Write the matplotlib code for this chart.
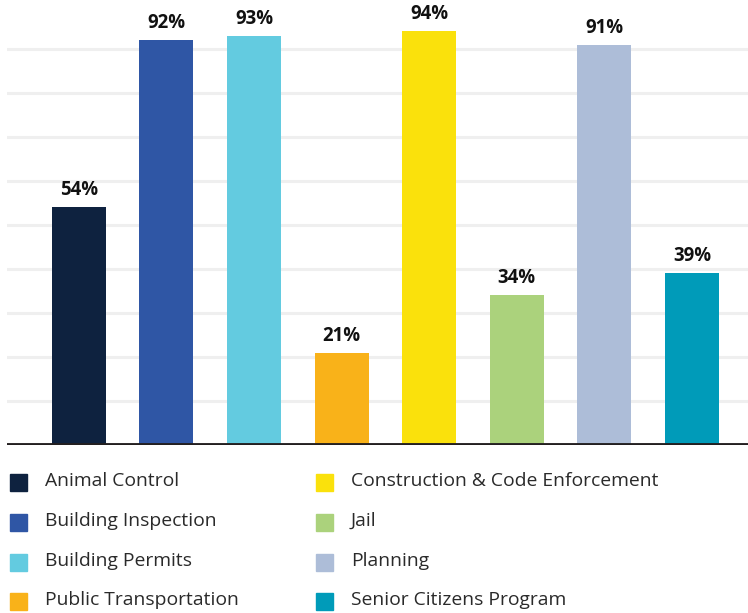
import matplotlib
matplotlib.use("Agg")
import matplotlib.pyplot as plt
from matplotlib.patches import Rectangle

categories = ["Animal Control", "Building Inspection", "Building Permits",
              "Public Transportation", "Construction & Code Enforcement", "Jail",
              "Planning", "Senior Citizens Program"]
values = [54, 92, 93, 21, 94, 34, 91, 39]
colors = ["#0e223f", "#2f56a5", "#63cbe0", "#f9b219", "#fae10c", "#abd27c",
          "#adbdd8", "#009bb9"]

plt.rcParams['font.family'] = ['Open Sans', 'DejaVu Sans']

W, H = 748, 613
fig = plt.figure(figsize=(W/100, H/100), dpi=100)
ax = fig.add_axes([7/W, 1-445/H, (748-7)/W, 445/H])
renderer = fig.canvas.get_renderer()


def fit_size(text, target_px, weight="normal"):
    t = fig.text(0, 0, text, fontsize=10, fontweight=weight)
    w = t.get_window_extent(renderer).width
    t.remove()
    return 10 * target_px / w


x = list(range(len(values)))
ax.bar(x, values, width=0.616, color=colors, zorder=3)
lab_size = fit_size("94%", 38, "bold")
for xi, v in zip(x, values):
    ax.annotate(f"{v}%", (xi, v), xytext=(0, 5), textcoords="offset points",
                ha="center", va="bottom", fontsize=lab_size, fontweight="bold",
                color="#111111")

ax.set_xlim(-0.82, 7.64)
ax.set_ylim(0, 445/4.4)
for gy in range(10, 100, 10):
    ax.axhline(gy, color="#efefef", lw=2.2, zorder=1)
ax.axhline(0, color="#231f20", lw=3.5, zorder=4)

ax.set_xticks([])
ax.set_yticks([])
for s in ax.spines.values():
    s.set_visible(False)

# legend
leg_size = fit_size("Construction & Code Enforcement", 306)
col_x = [10, 316]
text_x = [45, 351]
row_y = [482, 522, 562, 601]
for i, (c, col) in enumerate(zip(categories, colors)):
    ci, ri = i // 4, i % 4
    cy = row_y[ri]
    fig.add_artist(Rectangle((col_x[ci]/W, 1-(cy+8.5)/H), 17/W, 17/H,
                             transform=fig.transFigure, color=col))
    fig.text(text_x[ci]/W, 1-(cy-1)/H, c, fontsize=leg_size, color="#2a2a2a",
             va="center", ha="left")

fig.savefig("out.png", dpi=100)
